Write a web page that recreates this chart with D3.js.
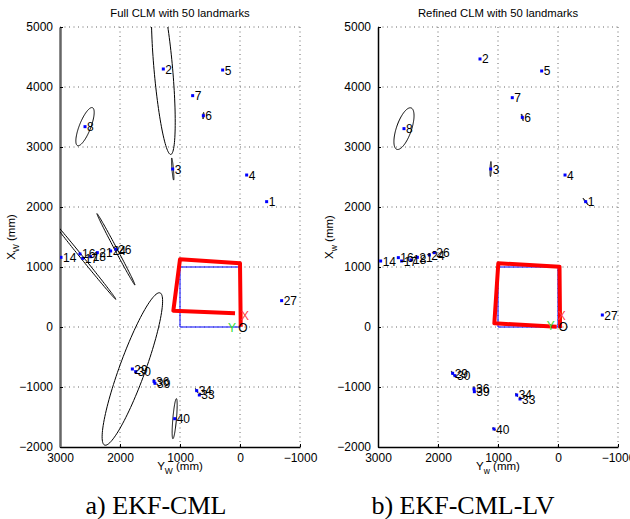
<!DOCTYPE html>
<html>
<head>
<meta charset="utf-8">
<script src="https://cdn.jsdelivr.net/npm/d3@7"></script>
<style>
body { margin: 0; background: #fff; }
text { font-family: "Liberation Sans", Arial, Helvetica, sans-serif; }
.caption { font-family: "Liberation Serif", "Times New Roman", serif; }
</style>
</head>
<body>
<script>
// axis ticks
const xTicks = [3000, 2000, 1000, 0, -1000];
const xTickLabels = ['3000', '2000', '1000', '0', '\u22121000'];
const yTicks = [-2000, -1000, 0, 1000, 2000, 3000, 4000, 5000];
const yTickLabels = ['\u22122000', '\u22121000', '0', '1000', '2000', '3000', '4000', '5000'];

// landmark ids (same in both plots)
const ids = [1, 2, 3, 4, 5, 6, 7, 8, 14, 16, 17, 18, 21, 24, 26, 27, 29, 30, 33, 34, 36, 39, 40];

// full CLM: landmark positions (Y_W, X_W) in mm
const fullY = [-444, 1278, 1122, -111, 289, 611, 789, 2583, 2983, 2667, 2622, 2489, 2378, 2156, 2067, -694, 1794, 1739, 678, 722, 1433, 1417, 1089];
const fullX = [2089, 4300, 2633, 2533, 4283, 3522, 3856, 3339, 1161, 1217, 1144, 1172, 1239, 1267, 1294, 439, -700, -744, -1133, -1061, -906, -939, -1528];

// refined CLM: landmark positions
const refY = [-461, 1300, 1122, -117, 272, 595, 762, 2567, 2956, 2661, 2606, 2450, 2344, 2144, 2061, -739, 1756, 1717, 633, 689, 1400, 1394, 1067];
const refX = [2089, 4467, 2633, 2533, 4267, 3494, 3822, 3306, 1100, 1156, 1100, 1117, 1161, 1200, 1239, 200, -772, -811, -1200, -1133, -1033, -1078, -1700];

// uncertainty ellipses: landmark id, semi-major, semi-minor (mm), angle (deg)
const fullEllId = [2, 8, 3, 6, 17, 26, 29, 40, 36, 34];
const fullEllA = [1430, 340, 185, 55, 880, 675, 1350, 335, 40, 40];
const fullEllB = [155, 95, 12, 8, 22, 20, 215, 30, 8, 8];
const fullEllAng = [85, 111.5, 85, 95, 51, 62, 110, 95, 80, 60];

const refEllId = [8, 3, 6, 1, 29, 36, 34, 40];
const refEllA = [365, 125, 58, 70, 40, 40, 30, 30];
const refEllB = [125, 10, 8, 8, 8, 8, 8, 10];
const refEllAng = [109, 92, 76, 53, 60, 90, 60, 45];

// robot trajectory (red)
const fullTrajY = [-12, 0, 1000, 1111, 83];
const fullTrajX = [5, 1061, 1128, 272, 228];
const refTrajY = [-35, -25, 995, 1061, 22];
const refTrajX = [-15, 1006, 1061, 61, 5];

// reference square path (blue)
const sqY = [0, 0, 1000, 1000, 0];
const sqX = [0, 1000, 1000, 0, 0];

// frame markers
const frameText = ['X', 'Y', 'O'];
const frameColor = ['#ff4040', '#33dd33', '#000'];
const fullFrameY = [-83, 133, -50];
const fullFrameX = [200, 0, 0];
const refFrameY = [-62, 122, -88];
const refFrameX = [200, 17, 5];

const W = 630, H = 519;
const svg = d3.select('body').append('svg')
  .attr('width', W)
  .attr('height', H);

const panels = [
  { left: 60, title: 'Full CLM with 50 landmarks', sub: 'W', caption: 'a) EKF-CML', capX: 156,
    py: fullY, px: fullX, ellId: fullEllId, ellA: fullEllA, ellB: fullEllB, ellAng: fullEllAng,
    tY: fullTrajY, tX: fullTrajX, fY: fullFrameY, fX: fullFrameX, axisColor: '#666', axisW: 2.5 },
  { left: 378, title: 'Refined CLM with 50 landmarks', sub: 'w', caption: 'b) EKF-CML-LV', capX: 463,
    py: refY, px: refX, ellId: refEllId, ellA: refEllA, ellB: refEllB, ellAng: refEllAng,
    tY: refTrajY, tX: refTrajX, fY: refFrameY, fX: refFrameX, axisColor: '#000', axisW: 1.5 }
];

const plotTop = 27, plotBottom = 447, pw = 240;

panels.forEach(function(p, k) {
  const x = d3.scaleLinear().domain([3000, -1000]).range([p.left, p.left + pw]);
  const y = d3.scaleLinear().domain([-2000, 5000]).range([plotBottom, plotTop]);
  const g = svg.append('g');

  g.append('clipPath').attr('id', 'clip' + k)
    .append('rect').attr('x', p.left).attr('y', plotTop).attr('width', pw).attr('height', plotBottom - plotTop);

  // dotted grid
  g.selectAll('.gx').data(xTicks.slice(1)).enter().append('line')
    .attr('x1', d => x(d)).attr('x2', d => x(d))
    .attr('y1', plotTop).attr('y2', plotBottom)
    .attr('stroke', '#666').attr('stroke-width', 1).attr('stroke-dasharray', '1,3.5');
  g.selectAll('.gy').data(yTicks.slice(1)).enter().append('line')
    .attr('y1', d => y(d)).attr('y2', d => y(d))
    .attr('x1', p.left).attr('x2', p.left + pw)
    .attr('stroke', '#666').attr('stroke-width', 1).attr('stroke-dasharray', '1,3.5');

  // axes
  const ax = d3.axisBottom(x).tickValues(xTicks).tickFormat((d, i) => xTickLabels[i]).tickSizeInner(-3).tickSizeOuter(0).tickPadding(6);
  const ay = d3.axisLeft(y).tickValues(yTicks).tickFormat((d, i) => yTickLabels[i]).tickSizeInner(-3).tickSizeOuter(0).tickPadding(7);
  const gx = g.append('g').attr('transform', 'translate(0,' + plotBottom + ')').call(ax);
  const gy = g.append('g').attr('transform', 'translate(' + p.left + ',0)').call(ay);
  [gx, gy].forEach(function(a) {
    a.selectAll('text').attr('font-size', 12).attr('fill', '#000')
      .style('font-family', '"Liberation Sans", Arial, sans-serif');
    a.selectAll('.tick line').attr('stroke', '#000');
  });
  gx.select('.domain').attr('stroke', '#000').attr('stroke-width', 1.5);
  gy.select('.domain').attr('stroke', p.axisColor).attr('stroke-width', p.axisW);

  // title
  g.append('text').attr('x', p.left + pw / 2).attr('y', 17)
    .attr('text-anchor', 'middle').attr('font-size', 11.3).text(p.title);

  // axis labels
  const xl = g.append('text').attr('x', p.left + pw / 2).attr('y', 470)
    .attr('text-anchor', 'middle').attr('font-size', 11.5);
  xl.append('tspan').text('Y');
  xl.append('tspan').attr('font-size', 8.5).attr('dy', 4).text(p.sub);
  xl.append('tspan').attr('dy', -4).text(' (mm)');

  const yl = g.append('text')
    .attr('transform', 'translate(' + (p.left - 45) + ',' + ((plotTop + plotBottom) / 2) + ') rotate(-90)')
    .attr('text-anchor', 'middle').attr('font-size', 11.5);
  yl.append('tspan').text('X');
  yl.append('tspan').attr('font-size', 8.5).attr('dy', 4).text(p.sub);
  yl.append('tspan').attr('dy', -4).text(' (mm)');

  const plot = g.append('g').attr('clip-path', 'url(#clip' + k + ')');
  const line = d3.line().x(d => x(d[0])).y(d => y(d[1]));

  // blue square
  plot.append('path')
    .attr('d', line(sqY.map((v, i) => [v, sqX[i]])))
    .attr('fill', 'none').attr('stroke', '#0000ff').attr('stroke-width', 1);

  // red trajectory
  plot.append('path')
    .attr('d', line(p.tY.map((v, i) => [v, p.tX[i]])))
    .attr('fill', 'none').attr('stroke', '#ff0000').attr('stroke-width', 4)
    .attr('stroke-linejoin', 'round');

  // ellipses
  p.ellId.forEach(function(id, i) {
    const j = ids.indexOf(id);
    const cy = p.py[j], cx = p.px[j];
    const a = p.ellA[i], b = p.ellB[i], phi = p.ellAng[i] * Math.PI / 180;
    const pts = d3.range(0, 121).map(function(n) {
      const t = n / 120 * 2 * Math.PI;
      return [cy + a * Math.cos(t) * Math.cos(phi) - b * Math.sin(t) * Math.sin(phi),
              cx + a * Math.cos(t) * Math.sin(phi) + b * Math.sin(t) * Math.cos(phi)];
    });
    plot.append('path').attr('d', line(pts))
      .attr('fill', 'none').attr('stroke', '#000').attr('stroke-width', 1);
  });

  // landmarks
  plot.selectAll('.lm').data(ids).enter().append('rect')
    .attr('x', (d, i) => x(p.py[i]) - 1.5).attr('y', (d, i) => y(p.px[i]) - 1.5)
    .attr('width', 3).attr('height', 3).attr('fill', '#0000ff');
  g.selectAll('.lbl').data(ids).enter().append('text')
    .attr('x', (d, i) => x(p.py[i]) + 2).attr('y', (d, i) => y(p.px[i]) + 4.5)
    .attr('font-size', 12).text(d => d);

  // frame markers
  g.selectAll('.fr').data(frameText).enter().append('text')
    .attr('x', (d, i) => x(p.fY[i])).attr('y', (d, i) => y(p.fX[i]) + 4.5)
    .attr('text-anchor', 'middle').attr('font-size', 12)
    .attr('fill', (d, i) => frameColor[i]).text(d => d);

  // caption
  g.append('text').attr('class', 'caption').attr('x', p.capX).attr('y', 514)
    .attr('text-anchor', 'middle').attr('font-size', 26).text(p.caption);
});
</script>
</body>
</html>
